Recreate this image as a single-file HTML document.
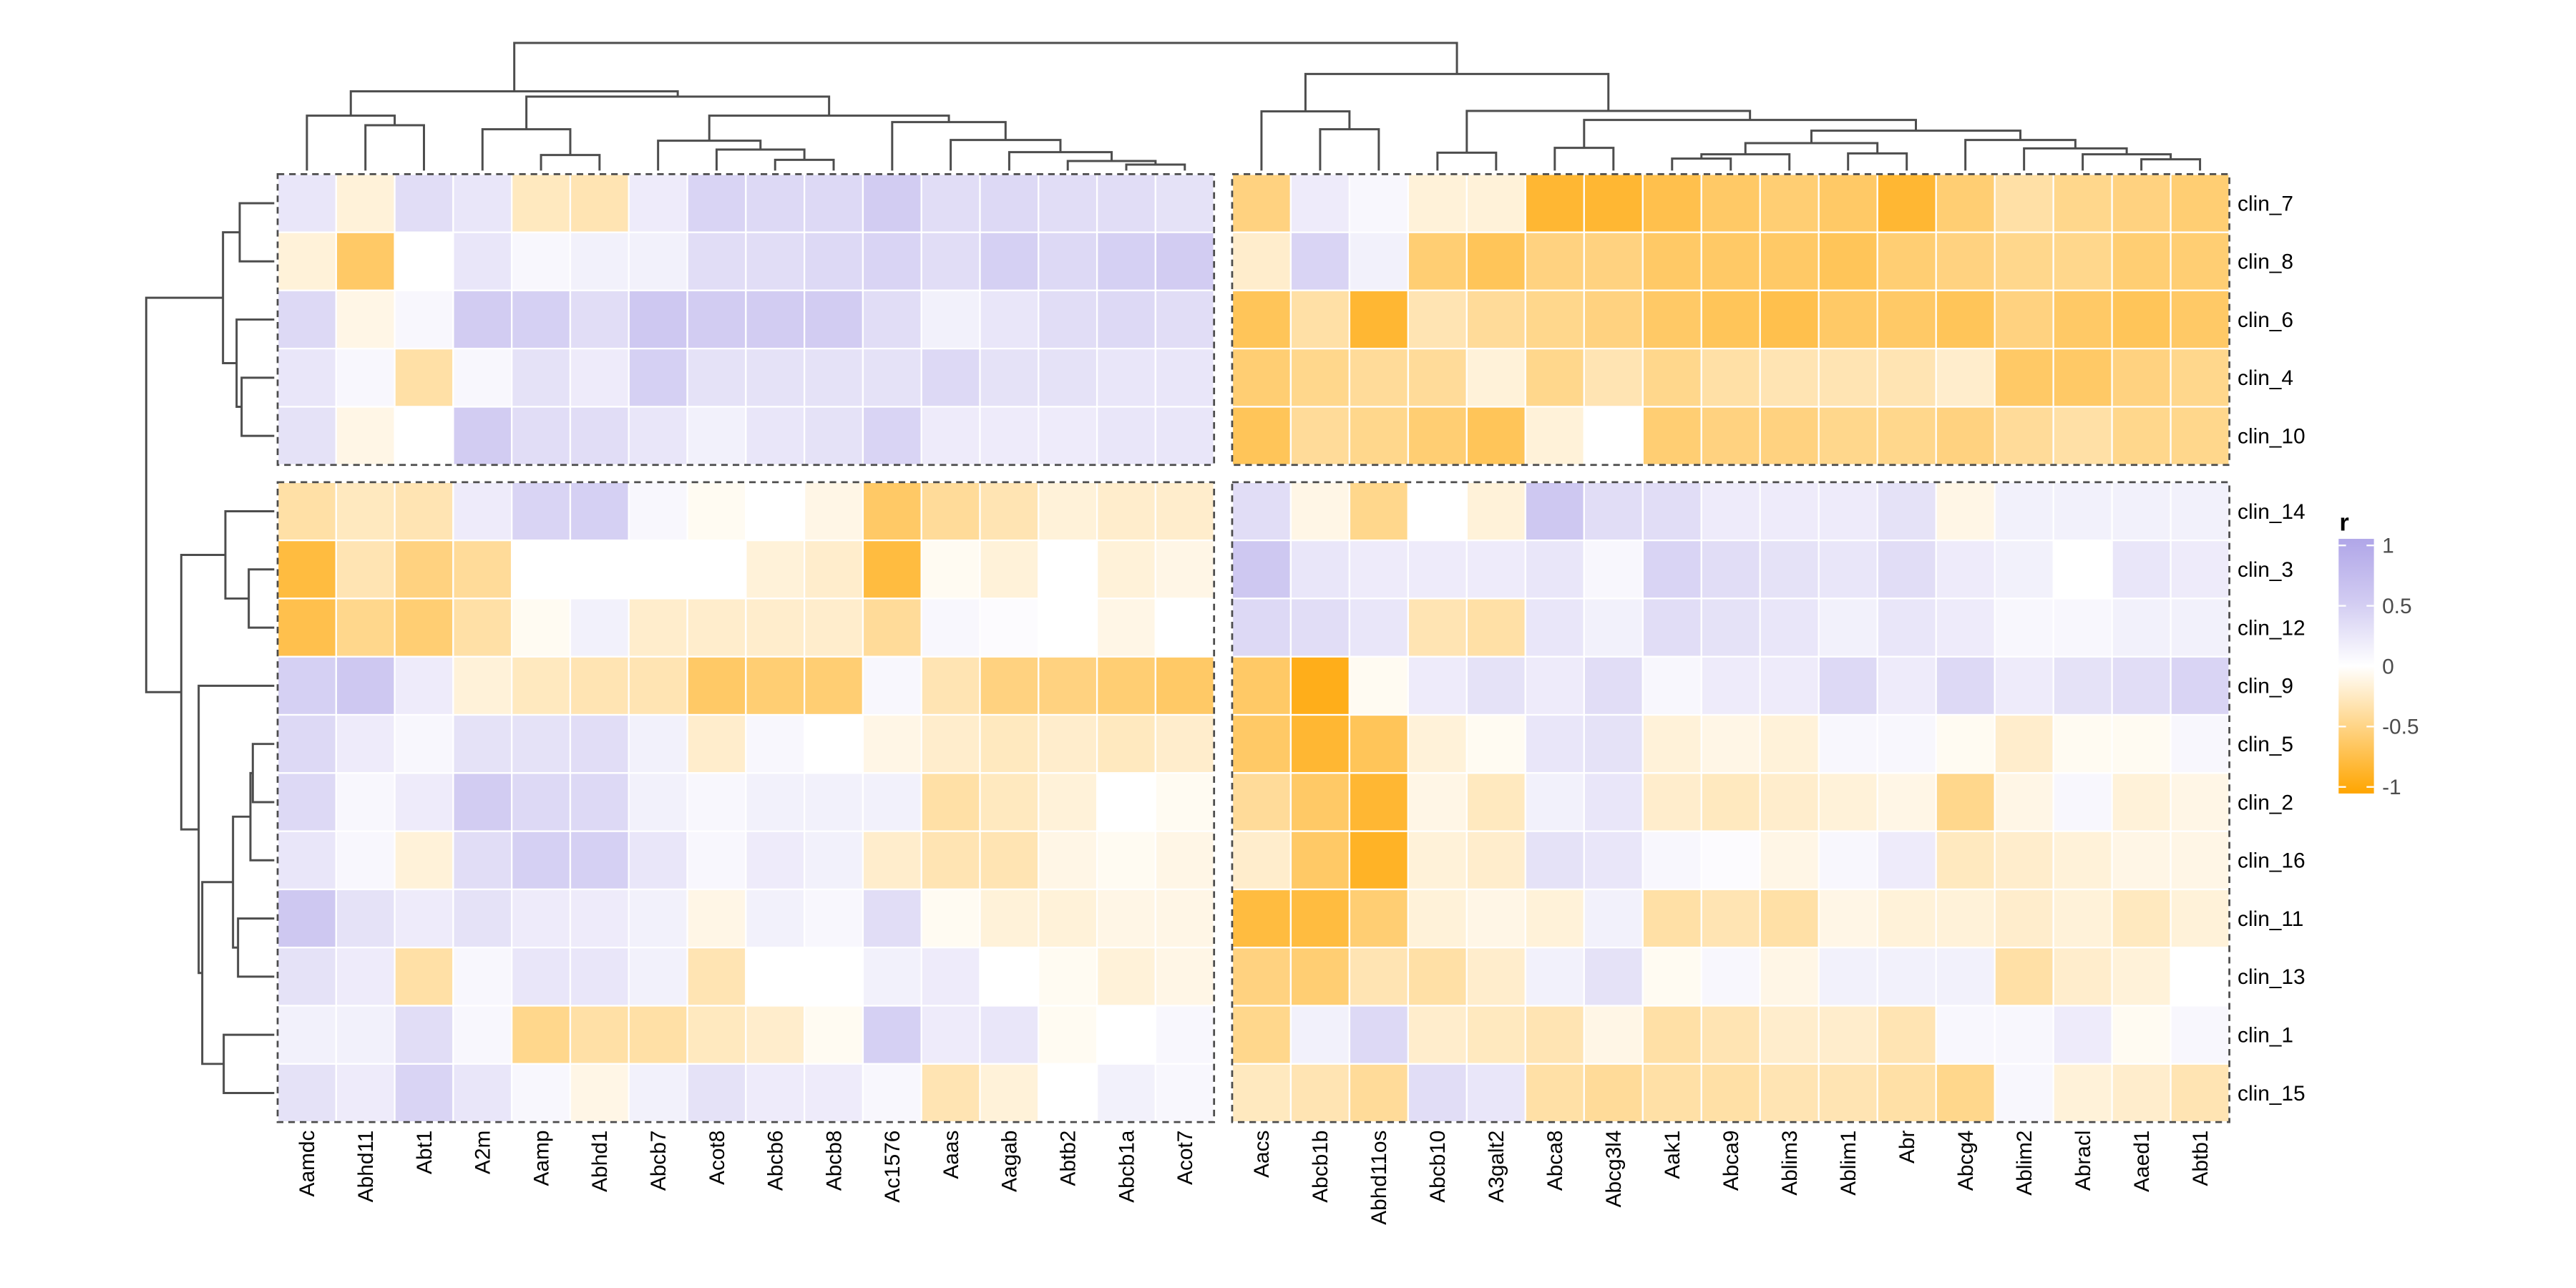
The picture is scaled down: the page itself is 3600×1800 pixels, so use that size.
<!DOCTYPE html>
<html><head><meta charset="utf-8"><style>
html,body{margin:0;padding:0;background:#fff;}
svg{display:block;font-family:"Liberation Sans",Arial,sans-serif;}
</style></head><body>
<svg id="chart" width="3600" height="1800" viewBox="0 0 1568 784" xmlns="http://www.w3.org/2000/svg">
<g id="cells"></g>
<g id="borders"></g>
<g id="coldend"></g>
<g id="rowdend"></g>
<g id="rowlabels"></g>
<g id="collabels"></g>
<g id="legend"></g>
</svg>
<script>
const rowNames = ["clin_7","clin_8","clin_6","clin_4","clin_10","clin_14","clin_3","clin_12","clin_9","clin_5","clin_2","clin_16","clin_11","clin_13","clin_1","clin_15"];
const leftCols = ["Aamdc","Abhd11","Abt1","A2m","Aamp","Abhd1","Abcb7","Acot8","Abcb6","Abcb8","Ac1576","Aaas","Aagab","Abtb2","Abcb1a","Acot7"];
const rightCols = ["Aacs","Abcb1b","Abhd11os","Abcb10","A3galt2","Abca8","Abcg3l4","Aak1","Abca9","Ablim3","Ablim1","Abr","Abcg4","Ablim2","Abracl","Aaed1","Abtb1"];
const leftVals = [
[0.2,-0.15,0.3,0.2,-0.25,-0.3,0.15,0.4,0.35,0.35,0.5,0.3,0.35,0.3,0.3,0.25],
[-0.15,-0.6,0,0.2,0.05,0.1,0.1,0.3,0.3,0.35,0.4,0.3,0.45,0.35,0.45,0.5],
[0.35,-0.1,0.05,0.5,0.45,0.3,0.55,0.5,0.5,0.5,0.3,0.1,0.2,0.3,0.35,0.3],
[0.2,0.05,-0.35,0.05,0.25,0.15,0.45,0.25,0.25,0.25,0.25,0.35,0.25,0.25,0.2,0.2],
[0.25,-0.1,0,0.5,0.3,0.3,0.2,0.1,0.2,0.25,0.4,0.15,0.15,0.15,0.2,0.2],
[-0.35,-0.25,-0.3,0.15,0.4,0.45,0.05,-0.05,0,-0.1,-0.6,-0.4,-0.3,-0.15,-0.2,-0.2],
[-0.75,-0.3,-0.5,-0.4,0,0,0,0,-0.15,-0.2,-0.75,-0.05,-0.15,0,-0.15,-0.1],
[-0.7,-0.45,-0.55,-0.35,-0.05,0.1,-0.2,-0.2,-0.2,-0.2,-0.4,0.05,0.02,0,-0.1,0],
[0.45,0.55,0.15,-0.15,-0.25,-0.3,-0.3,-0.6,-0.55,-0.55,0.05,-0.3,-0.5,-0.5,-0.55,-0.6],
[0.35,0.15,0.05,0.25,0.25,0.3,0.1,-0.2,0.05,0,-0.1,-0.2,-0.25,-0.2,-0.25,-0.2],
[0.35,0.05,0.15,0.5,0.35,0.35,0.1,0.05,0.1,0.1,0.1,-0.35,-0.25,-0.15,0,-0.05],
[0.2,0.05,-0.15,0.3,0.45,0.45,0.2,0.05,0.15,0.1,-0.2,-0.3,-0.3,-0.1,-0.05,-0.1],
[0.55,0.25,0.15,0.25,0.15,0.15,0.1,-0.1,0.1,0.05,0.3,-0.05,-0.15,-0.15,-0.1,-0.1],
[0.25,0.15,-0.35,0.05,0.2,0.2,0.1,-0.3,0,0,0.1,0.15,0,-0.05,-0.15,-0.1],
[0.1,0.1,0.3,0.05,-0.45,-0.35,-0.35,-0.25,-0.2,-0.05,0.45,0.15,0.2,-0.05,0,0.05],
[0.25,0.15,0.4,0.2,0.05,-0.1,0.1,0.25,0.15,0.15,0.05,-0.3,-0.15,0,0.1,0.05]];
const rightVals = [
[-0.5,0.15,0.05,-0.15,-0.15,-0.8,-0.8,-0.7,-0.6,-0.55,-0.6,-0.8,-0.55,-0.35,-0.45,-0.5,-0.55],
[-0.2,0.4,0.1,-0.55,-0.65,-0.5,-0.5,-0.6,-0.6,-0.6,-0.65,-0.55,-0.5,-0.45,-0.45,-0.55,-0.55],
[-0.65,-0.35,-0.8,-0.3,-0.4,-0.45,-0.5,-0.6,-0.65,-0.7,-0.6,-0.6,-0.65,-0.5,-0.6,-0.65,-0.6],
[-0.55,-0.45,-0.4,-0.4,-0.15,-0.45,-0.3,-0.45,-0.35,-0.3,-0.3,-0.3,-0.2,-0.6,-0.6,-0.5,-0.45],
[-0.65,-0.4,-0.45,-0.55,-0.65,-0.15,0,-0.55,-0.5,-0.5,-0.45,-0.45,-0.5,-0.4,-0.35,-0.45,-0.45],
[0.3,-0.1,-0.45,0,-0.15,0.55,0.3,0.3,0.15,0.15,0.15,0.25,-0.1,0.1,0.1,0.1,0.1],
[0.55,0.2,0.15,0.15,0.15,0.2,0.05,0.4,0.3,0.25,0.2,0.3,0.15,0.1,0,0.2,0.15],
[0.35,0.3,0.2,-0.3,-0.35,0.2,0.1,0.3,0.25,0.2,0.1,0.2,0.15,0.05,0.05,0.1,0.1],
[-0.6,-0.9,-0.05,0.15,0.25,0.15,0.3,0.05,0.15,0.15,0.35,0.15,0.35,0.15,0.25,0.3,0.4],
[-0.6,-0.8,-0.65,-0.15,-0.05,0.2,0.25,-0.15,-0.1,-0.15,0.05,0.05,-0.05,-0.2,-0.05,-0.05,0.05],
[-0.4,-0.6,-0.8,-0.1,-0.25,0.1,0.2,-0.2,-0.25,-0.2,-0.15,-0.1,-0.45,-0.1,0.05,-0.15,-0.1],
[-0.2,-0.6,-0.85,-0.15,-0.2,0.25,0.2,0.05,0.02,-0.1,0.05,0.15,-0.25,-0.2,-0.15,-0.1,-0.1],
[-0.75,-0.75,-0.55,-0.15,-0.1,-0.15,0.1,-0.35,-0.3,-0.35,-0.1,-0.15,-0.15,-0.2,-0.15,-0.25,-0.15],
[-0.5,-0.55,-0.3,-0.35,-0.2,0.1,0.25,-0.05,0.05,-0.1,0.1,0.1,0.1,-0.35,-0.2,-0.15,0],
[-0.45,0.1,0.35,-0.2,-0.25,-0.3,-0.1,-0.35,-0.3,-0.2,-0.2,-0.3,0.05,0.05,0.15,-0.05,0.05],
[-0.25,-0.3,-0.4,0.3,0.2,-0.35,-0.4,-0.35,-0.35,-0.3,-0.3,-0.35,-0.45,0.05,-0.15,-0.2,-0.3]];
const colTree = [535,
  [332,[230,0,[190,1,2]],[310,[173,3,[65,4,5]],[230,[125,6,[88,7,[45,8,9]]],[203,10,[128,11,[77,12,[40,13,[25,14,15]]]]]]]],
  [405,[248,16,[173,17,18]],[250,[75,19,20],[212,[95,21,22],[167,[115,[68,[50,23,24],25],[72,26,27]],[128,28,[93,29,[68,30,[47,31,32]]]]]]]]];
const rowTree = [537,
  [215,[145,0,1],[158,2,[137,3,4]]],
  [390,[205,5,[107,6,7]],[317,8,[302,[173,[100,[90,9,10],11],[152,12,13]],[212,14,15]]]]];
const legendTicks = [1,0.5,0,-0.5,-1];

const NS="http://www.w3.org/2000/svg";
function mk(tag,attrs,parent){const e=document.createElementNS(NS,tag);for(const k in attrs)e.setAttribute(k,attrs[k]);parent.appendChild(e);return e;}
const LX0=169,LX1=739,RX0=750,RX1=1357;
const TY0=106,TY1=283,BY0=293.5,BY1=683;
const lw=(LX1-LX0)/leftCols.length, rw=(RX1-RX0)/rightCols.length;
const th=(TY1-TY0)/5, bh=(BY1-BY0)/11;
function rowY(i){return i<5?TY0+i*th:BY0+(i-5)*bh;}
function rowH(i){return i<5?th:bh;}
function colX(j){return j<leftCols.length?LX0+j*lw:RX0+(j-leftCols.length)*rw;}
function colW(j){return j<leftCols.length?lw:rw;}
function color(v){
  const w=[255,255,255],p=[176,166,232],o=[255,165,0];
  let t=Math.min(1,Math.abs(v));
  if(v>=0) t=Math.pow(t,0.8);
  const c=v>=0?p:o;
  return "rgb("+w.map((x,i)=>Math.round(x+(c[i]-x)*t)).join(",")+")";
}
const cells=document.getElementById('cells');
const allCols=leftCols.concat(rightCols);
rowNames.forEach((r,i)=>{
  allCols.forEach((c,j)=>{
    const v=j<leftCols.length?leftVals[i][j]:rightVals[i][j-leftCols.length];
    const e=mk('rect',{x:colX(j),y:rowY(i),width:colW(j),height:rowH(i),fill:color(v),stroke:'#fff','stroke-width':1},cells);
    
    
  });
});
const borders=document.getElementById('borders');
[[LX0,TY0,LX1,TY1],[RX0,TY0,RX1,TY1],[LX0,BY0,LX1,BY1],[RX0,BY0,RX1,BY1]].forEach((b,k)=>{
  const e=mk('rect',{x:b[0],y:b[1],width:b[2]-b[0],height:b[3]-b[1],fill:'none',stroke:'#4d4d4d','stroke-width':1.2,'stroke-dasharray':'4,3'},borders);
  
  
});
const cd=document.getElementById('coldend');
function colHY(h){return (40+(595-h)/3)/2.296;}
function drawCol(n){
  if(typeof n==='number') return {x:colX(n)+colW(n)/2,y:colHY(0)};
  const a=drawCol(n[1]),b=drawCol(n[2]),y=colHY(n[0]);
  const e=mk('path',{d:`M${a.x},${a.y}V${y}H${b.x}V${b.y}`,fill:'none',stroke:'#4d4d4d','stroke-width':1.3},cd);
  
  
  return {x:(a.x+b.x)/2,y:y};
}
drawCol(colTree);
const rd=document.getElementById('rowdend');
function rowHX(w){return (180+(610-w)/3)/2.296;}
function drawRow(n){
  if(typeof n==='number') return {x:rowHX(0),y:rowY(n)+rowH(n)/2};
  const a=drawRow(n[1]),b=drawRow(n[2]),x=rowHX(n[0]);
  const e=mk('path',{d:`M${a.x},${a.y}H${x}V${b.y}H${b.x}`,fill:'none',stroke:'#4d4d4d','stroke-width':1.3},rd);
  
  
  return {x:x,y:(a.y+b.y)/2};
}
drawRow(rowTree);
const rl=document.getElementById('rowlabels');
rowNames.forEach((r,i)=>{
  const e=mk('text',{x:1362,y:rowY(i)+rowH(i)/2+4.5,'font-size':13,fill:'#000'},rl);
  e.textContent=r;
  
  
});
const cl=document.getElementById('collabels');
allCols.forEach((c,j)=>{
  const x=colX(j)+colW(j)/2+4.5,y=688;
  const e=mk('text',{x:x,y:y,'font-size':13,fill:'#000','text-anchor':'end',transform:`rotate(-90 ${x} ${y})`},cl);
  e.textContent=c;
  
  
});
const lg=document.getElementById('legend');
const defs=mk('defs',{},lg);
const grad=mk('linearGradient',{id:'lgrad',x1:0,y1:0,x2:0,y2:1},defs);
[[0,1],[0.25,0.5],[0.5,0],[1,-1]].forEach(s=>mk('stop',{offset:s[0],'stop-color':color(s[1])},grad));
const LTOP=332,LBOT=479;
const t=mk('text',{x:1424,y:323,'font-size':15,'font-weight':'bold',fill:'#000'},lg);
t.textContent='r';


const bar=mk('rect',{x:1423.5,y:328,width:21.5,height:155,fill:'url(#lgrad)'},lg);


legendTicks.forEach(v=>{
  const y=LTOP+(1-v)/2*(LBOT-LTOP);
  mk('line',{x1:1423.5,x2:1428,y1:y,y2:y,stroke:'#fff','stroke-width':1},lg);
  mk('line',{x1:1440.5,x2:1445,y1:y,y2:y,stroke:'#fff','stroke-width':1},lg);
  const e=mk('text',{x:1450,y:y+4.5,'font-size':13,fill:'#4d4d4d'},lg);
  e.textContent=String(v);
  
  
});
</script>
</body></html>
